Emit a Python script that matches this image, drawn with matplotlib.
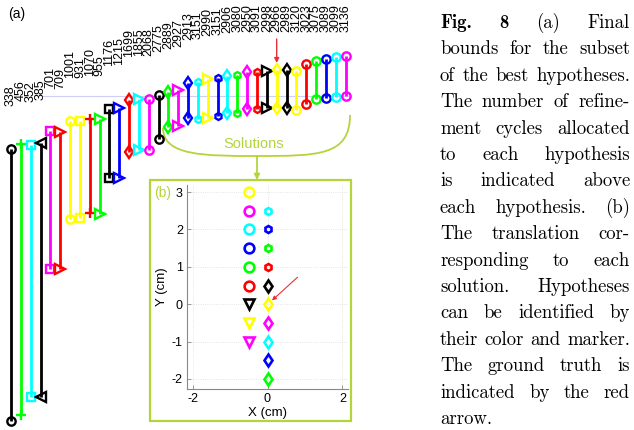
import numpy as np
import matplotlib
matplotlib.use('Agg')
import matplotlib.pyplot as plt
from matplotlib.patches import Rectangle, PathPatch
from matplotlib.path import Path

plt.rcParams['font.family'] = ['Liberation Sans', 'DejaVu Sans']
plt.rcParams['axes.unicode_minus'] = False

# refinement cycles allocated to each hypothesis (label above each bar)
cycles = [338, 456, 352, 385, 701, 709, 1001, 931, 1070, 955, 1176, 1215,
          1699, 1855, 2068, 2775, 2889, 2927, 2913, 3151, 2990, 3151, 2906,
          3080, 2950, 3091, 2998, 2966, 2989, 3120, 3023, 3075, 3089, 3099, 3136]
colors = ['k', 'g', 'c', 'k', 'm', 'r', 'y', 'y', 'r', 'g', 'k', 'b',
          'r', 'c', 'm', 'k', 'g', 'm', 'b', 'c', 'y', 'b', 'c',
          'g', 'm', 'r', 'k', 'y', 'k', 'y', 'r', 'g', 'b', 'c', 'm']
markers = ['o', '+', 's', '<', 's', '>', 'o', 's', '+', '>', 's', '>',
           'd', '>', 'o', 'o', 'd', '>', 'd', 'h', '>', 'h', 'd',
           'h', 'd', 'h', '>', 'd', 'd', 'o', 'o', 'o', 'o', 'o', 'o']
# final bounds (arbitrary score units)
upper = [281, 286, 285, 287, 299, 298, 309, 309, 311, 311, 321, 322,
         330, 331, 331, 335, 338, 340, 347, 348, 351, 352, 354,
         355, 358, 358, 359, 360, 360, 359, 366, 369, 371, 373, 374]
lower = [9, 15, 33, 33, 161, 161, 211, 212, 217, 216, 252, 252,
         278, 280, 280, 291, 303, 304, 312, 311, 312, 314, 317,
         317, 321, 321, 322, 322, 322, 320, 326, 331, 332, 333, 334]

# solutions (hypotheses 17..35) and their translation in cm
first_solution = 16
sol_x = [0, -0.5, 0, 0, -0.5, 0, 0, 0, 0, 0, -0.5, 0, 0, -0.5, -0.5, -0.5, -0.5, -0.5, -0.5]
sol_y = [-2, -1, -1.5, 2.5, -0.5, 2, -1, 1.5, -0.5, 1, 0, 0, 0.5, 3, 0.5, 1, 1.5, 2, 2.5]
truth = 27

caption = ["Fig. 8 (a) Final",
           "bounds for the subset",
           "of the best hypotheses.",
           "The number of refine-",
           "ment cycles allocated",
           "to each hypothesis",
           "is indicated above",
           "each hypothesis. (b)",
           "The translation cor-",
           "responding to each",
           "solution. Hypotheses",
           "can be identified by",
           "their color and marker.",
           "The ground truth is",
           "indicated by the red",
           "arrow."]

pal = {'k': '#000000', 'g': '#00ff00', 'c': '#00ffff', 'm': '#ff00ff',
       'r': '#ff0000', 'y': '#ffff00', 'b': '#0000ff'}
lime = '#b4d43c'
sizes = {'o': 6.0, '+': 7.5, 's': 5.5, '<': 6.5, '>': 6.5, 'd': 6.5, 'h': 5.0, 'v': 6.5}

W, H = 634, 430
fig = plt.figure(figsize=(W / 100, H / 100), dpi=100)

# overlay in pixel coordinates for decorations and caption
ov = fig.add_axes([0, 0, 1, 1])
ov.set_xlim(0, W)
ov.set_ylim(H, 0)
ov.axis('off')

# (a) bounds
ax = fig.add_axes([0, 0, 1, 1])
step = 9.84
x0 = -11 / step
ax.set_xlim(x0, x0 + W / step)
ax.set_ylim(0, H)
ax.axis('off')

idx = np.arange(len(cycles))
ax.plot([3.2, idx[-1] + 0.4], [max(lower)] * 2, color='#cfcff5', lw=0.8, zorder=0)
for i in idx:
    c = pal[colors[i]]
    m = markers[i]
    ax.plot([i, i], [lower[i], upper[i]], color=c, lw=2.0, marker=m,
            ms=sizes[m], mfc='none', mew=1.7, solid_capstyle='butt')
    ax.text(i, min(upper[i] + 43, 398), str(cycles[i]), rotation=90,
            ha='center', va='bottom', fontsize=9)
ax.annotate('', xy=(truth, upper[truth] + 7), xytext=(truth, upper[truth] + 31),
            arrowprops=dict(arrowstyle='-|>', color='#e8303a', lw=1,
                            mutation_scale=7, shrinkA=0, shrinkB=0))
ov.text(8, 14, '(a)', fontsize=10, va='center')

# brace + "Solutions"
verts = [(163, 128), (163, 156), (205, 156), (257, 156),
         (318, 156), (350, 156), (350, 115)]
codes = [Path.MOVETO] + [Path.CURVE4] * 6
ov.add_patch(PathPatch(Path(verts, codes), fill=False, ec=lime, lw=1.3))
ov.text(254, 144, 'Solutions', color=lime, fontsize=10.5, ha='center', va='center')
ov.annotate('', xy=(257, 180), xytext=(257, 156),
            arrowprops=dict(arrowstyle='-|>', color=lime, lw=1.3,
                            mutation_scale=8, shrinkA=0, shrinkB=0))

# (b) box
ov.add_patch(Rectangle((150, 180), 201, 241, fill=False, ec=lime, lw=1.6))
ov.text(154, 193, '(b)', color=lime, fontsize=10, va='center')

bx = fig.add_axes([187 / W, 1 - 389 / H, 161 / W, 204 / H])
bx.patch.set_alpha(0)
for k, x in enumerate(sol_x):
    i = first_solution + k
    m = 'v' if markers[i] == '>' else markers[i]
    ms = 7.0 if m == 'o' else sizes[m]
    bx.plot(x, sol_y[k], marker=m, ms=ms, mfc='none', mew=1.9,
            color=pal[colors[i]], ls='none')
k = truth - first_solution
bx.annotate('', xy=(sol_x[k] + 0.12, sol_y[k] + 0.1),
            xytext=(sol_x[k] + 0.8, sol_y[k] + 0.72),
            arrowprops=dict(arrowstyle='-|>', color='#e8303a', lw=0.8,
                            mutation_scale=6, shrinkA=0, shrinkB=0))
bx.set_xlim(-2.15, 2.15)
bx.set_ylim(-2.27, 3.19)
bx.set_xticks([-2, 0, 2])
bx.set_yticks([-2, -1, 0, 1, 2, 3])
bx.grid(True, color='#dddddd', lw=0.6, ls=':')
for s in ['top', 'right']:
    bx.spines[s].set_visible(False)
for s in ['left', 'bottom']:
    bx.spines[s].set_color('#888888')
    bx.spines[s].set_linewidth(0.8)
bx.tick_params(direction='in', length=3, width=0.6, color='#888888',
               labelsize=9, pad=3)
bx.set_xlabel('X (cm)', fontsize=9.5, labelpad=1)
bx.set_ylabel('Y (cm)', fontsize=9.5, labelpad=3)

# justified caption
left, right = 440, 630
base0, dy = 28, 26.4
fs = 13.5
r = fig.canvas.get_renderer()
for n, line in enumerate(caption):
    words = line.split()
    texts = []
    for w in words:
        fam = 'cmb10' if (n == 0 and w in ('Fig.', '8')) else 'cmr10'
        texts.append(ov.text(0, base0 + n * dy, w, fontsize=fs, family=fam,
                             va='baseline', ha='left'))
    widths = [t.get_window_extent(r).width for t in texts]
    if n == len(caption) - 1 or len(words) == 1:
        gap = fs * 0.333 * 100 / 72
    else:
        gap = (right - left - sum(widths)) / (len(words) - 1)
    x = left
    for t, w in zip(texts, widths):
        t.set_x(x)
        x += w + gap

fig.savefig('out.png', dpi=100)
